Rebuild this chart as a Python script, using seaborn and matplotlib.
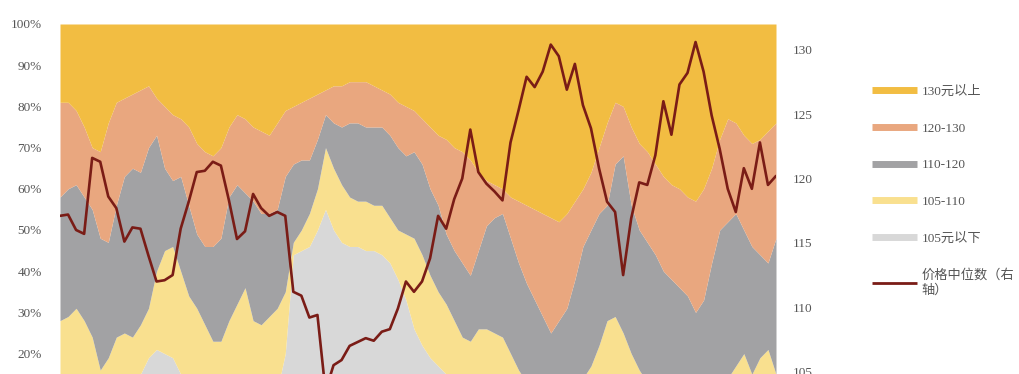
import numpy as np
import matplotlib
matplotlib.use("Agg")
import matplotlib.pyplot as plt
from matplotlib.lines import Line2D
import seaborn as sns

# share of each price band (%), weekly
below_105 = [10, 10, 10, 10, 9, 8, 9, 10, 10, 11, 15, 19, 21, 20, 19, 15, 12, 11, 10, 10,
             10, 11, 12, 12, 11, 10, 10, 11, 20, 44, 45, 46, 50, 55, 50, 47, 46, 46, 45, 45,
             44, 42, 38, 33, 26, 22, 19, 17, 15, 13, 10, 9, 9, 10, 10, 9, 8, 8, 9, 9,
             10, 10, 9, 9, 8, 8, 9, 10, 10, 9, 9, 8, 8, 9, 9, 10, 10, 9, 9, 8,
             8, 9, 10, 10, 9, 9, 8, 8, 9, 9]
band_105_110 = [18, 19, 21, 18, 15, 8, 10, 14, 15, 13, 12, 12, 19, 25, 27, 25, 22, 20, 17, 13,
                13, 17, 20, 24, 17, 17, 19, 20, 15, 3, 5, 8, 10, 15, 15, 14, 12, 11, 12, 11,
                12, 11, 12, 16, 22, 22, 20, 18, 17, 15, 14, 14, 17, 16, 15, 15, 12, 8, 4, 3,
                1, 1, 3, 3, 5, 6, 8, 12, 18, 20, 16, 12, 8, 4, 3, 3, 2, 5, 4, 4,
                5, 3, 3, 4, 8, 11, 7, 11, 12, 6]
band_110_120 = [30, 31, 30, 30, 31, 32, 28, 32, 38, 41, 37, 39, 33, 20, 16, 23, 22, 18, 19, 23,
                25, 30, 29, 23, 29, 27, 25, 24, 28, 19, 17, 13, 12, 8, 11, 14, 18, 19, 18, 19,
                19, 20, 20, 19, 21, 22, 21, 21, 17, 17, 18, 16, 19, 25, 28, 30, 28, 26, 24, 21,
                18, 14, 16, 19, 25, 32, 33, 32, 28, 37, 43, 36, 34, 34, 32, 27, 26, 22, 21, 18,
                20, 30, 37, 38, 37, 30, 31, 25, 21, 33]
band_120_130 = [23, 21, 18, 17, 15, 21, 29, 25, 19, 18, 20, 15, 9, 15, 16, 14, 19, 22, 23, 22,
                22, 17, 17, 18, 18, 20, 19, 21, 16, 14, 14, 15, 11, 6, 9, 10, 10, 10, 11, 10,
                9, 10, 11, 12, 10, 11, 15, 17, 23, 25, 27, 28, 19, 11, 8, 6, 10, 15, 19, 22,
                25, 28, 24, 23, 19, 14, 14, 16, 20, 15, 12, 19, 21, 22, 22, 23, 23, 24, 24, 27,
                27, 23, 22, 25, 22, 23, 25, 28, 32, 28]
above_130 = [19, 19, 21, 25, 30, 31, 24, 19, 18, 17, 16, 15, 18, 20, 22, 23, 25, 29, 31, 32,
             30, 25, 22, 23, 25, 26, 27, 24, 21, 20, 19, 18, 17, 16, 15, 15, 14, 14, 14, 15,
             16, 17, 19, 20, 21, 23, 25, 27, 28, 30, 31, 33, 36, 38, 39, 40, 42, 43, 44, 45,
             46, 47, 48, 46, 43, 40, 36, 30, 24, 19, 20, 25, 29, 31, 34, 37, 39, 40, 42, 43,
             40, 35, 28, 23, 24, 27, 29, 28, 26, 24]

# median price (right axis)
median_price = [117.1, 117.2, 116.0, 115.7, 121.6, 121.3, 118.6, 117.7, 115.1, 116.2,
                116.1, 114.0, 112.0, 112.1, 112.5, 116.1, 118.2, 120.5, 120.6, 121.3,
                121.0, 118.3, 115.3, 115.9, 118.8, 117.7, 117.1, 117.4, 117.1, 111.2,
                110.9, 109.2, 109.4, 103.5, 105.5, 105.9, 107.0, 107.3, 107.6, 107.4,
                108.1, 108.3, 109.9, 112.0, 111.2, 112.0, 113.8, 117.1, 116.1, 118.4,
                120.0, 123.8, 120.5, 119.6, 119.0, 118.3, 122.8, 125.3, 127.9, 127.1,
                128.3, 130.4, 129.5, 126.9, 128.9, 125.7, 123.9, 120.8, 118.2, 117.4,
                112.5, 116.9, 119.7, 119.5, 121.8, 126.0, 123.4, 127.3, 128.2, 130.6,
                128.3, 124.9, 122.3, 119.2, 117.4, 120.8, 119.2, 122.8, 119.5, 120.2]

labels = ["105元以下", "105-110", "110-120", "120-130", "130元以上"]
colors = ["#d8d8d8", "#f9e08f", "#a2a2a4", "#e9a77f", "#f2bd42"]
line_label = "价格中位数（右\n轴）"
line_color = "#7a1c16"

left_ticks = list(range(20, 101, 10))
right_ticks = list(range(105, 131, 5))

weeks = np.arange(len(median_price))

sns.set_theme(style="white")
plt.rcParams["font.family"] = ["Liberation Serif", "Noto Sans CJK SC"]

fig = plt.figure(figsize=(10.19, 3.74), dpi=100)
ax = fig.add_axes([60 / 1019, -62 / 374, 716 / 1019, 412 / 374])
ax.stackplot(weeks, below_105, band_105_110, band_110_120, band_120_130, above_130,
             colors=colors, linewidth=0)
ax.set_xlim(0, len(weeks) - 1)
ax.set_ylim(0, 100)
ax.set_yticks(left_ticks)
ax.set_yticklabels([f"{v}%" for v in left_ticks])
ax.set_xticks([])

ax2 = ax.twinx()
sns.lineplot(x=weeks, y=median_price, ax=ax2, color=line_color, linewidth=1.9)
ax2.set_ylim(100, 132)
ax2.set_yticks(right_ticks)
ax2.set_xlim(0, len(weeks) - 1)

for a in (ax, ax2):
    for s in a.spines.values():
        s.set_visible(False)
    a.tick_params(axis="y", length=0, labelsize=9.5, colors="#555555")
    a.set_ylabel("")
ax.tick_params(axis="y", pad=13)
ax2.tick_params(axis="y", pad=12)

handles = [Line2D([], [], color=c, lw=5, solid_capstyle="butt") for c in colors[::-1]]
handles.append(Line2D([], [], color=line_color, lw=2, solid_capstyle="butt"))
fig.legend(handles, labels[::-1] + [line_label], loc="upper left",
           bbox_to_anchor=(860 / 1019, 1 - 74 / 374), frameon=False,
           fontsize=9.5, labelcolor="#555555", handlelength=3.4, handletextpad=0.35,
           labelspacing=1.85)

fig.savefig("out.png", dpi=100)
